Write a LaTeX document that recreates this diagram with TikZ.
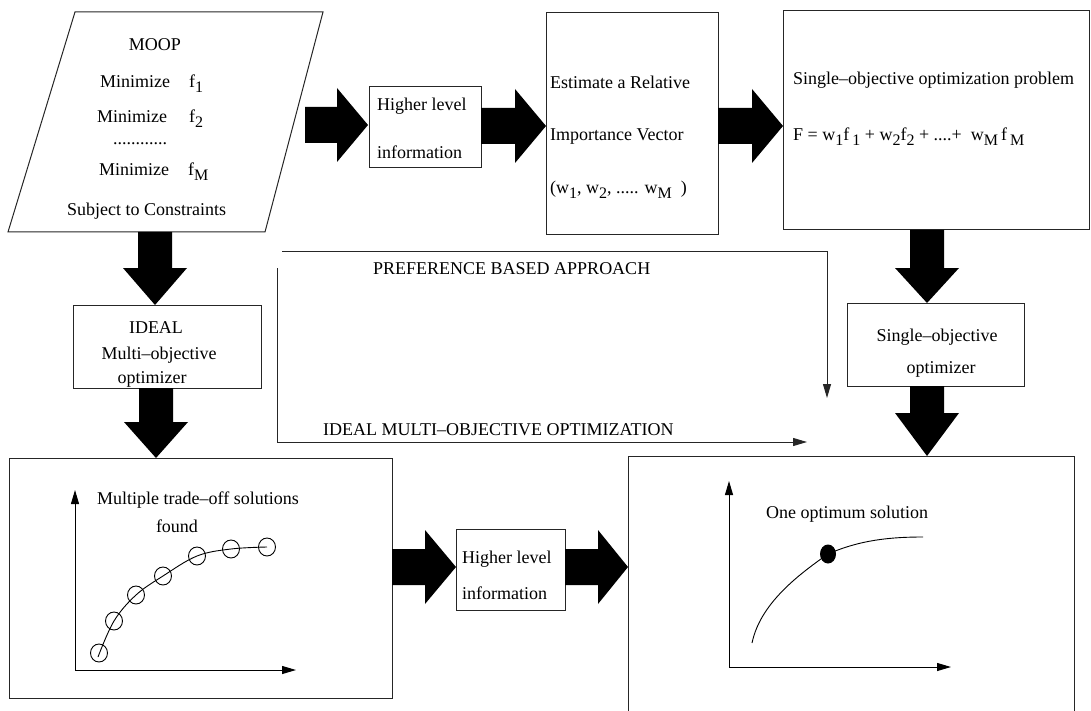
\documentclass[tikz,border=0pt]{standalone}
\usepackage{fontspec}
\setmainfont{Liberation Serif}
\usetikzlibrary{arrows.meta}
\newcommand\sbx[1]{\raisebox{-5pt}{\fontsize{16}{16}\selectfont #1}}
\newcommand\blockR[4]{\fill (#1,#4-18) -- (#2,#4-18) -- (#2,#4-37) -- (#3,#4) -- (#2,#4+37) -- (#2,#4+18) -- (#1,#4+18) -- cycle;}
\newcommand\blockD[4]{\fill (#4-17,#1) -- (#4-17,#2) -- (#4-32,#2) -- (#4,#3) -- (#4+32,#2) -- (#4+17,#2) -- (#4+17,#1) -- cycle;}
\begin{document}
\begin{tikzpicture}[x=1pt,y=-1pt,
  font=\fontsize{18}{22}\selectfont,
  box/.style={draw=black!85,line width=1pt,inner sep=0pt},
  txt/.style={anchor=base west,inner sep=0pt},
  ctxt/.style={anchor=base,inner sep=0pt},
  thin/.style={draw=black!85,line width=1pt},
  tip/.style={-{Triangle[length=14pt,width=8pt]}}]
\useasboundingbox (0,0) rectangle (1091,711);

% MOOP parallelogram
\draw[thin] (75,12) coordinate (p1) -- (323,12) coordinate (p2) -- (265,232) coordinate (p3) -- (8,232) coordinate (p4) -- cycle;
\node[ctxt] (moop) at (155,51) {MOOP};
\node[txt] (m1) at (100,88) {Minimize\hspace{19pt}f\sbx{1}};
\node[txt] (m2) at (97,123) {Minimize\hspace{22pt}f\sbx{2}};
\node[txt] (dots) at (113,145) {............};
\node[txt] (m3) at (99,176) {Minimize\hspace{19pt}f\sbx{M}};
\node[txt] (subj) at (67,216) {Subject to Constraints};

% top row boxes
\node[box,minimum width=112pt,minimum height=81pt] (hl1) at (425,127.5) {};
\node[txt] (hl1a) at (377,111) {Higher level};
\node[txt] (hl1b) at (377,159) {information};

\node[box,minimum width=172pt,minimum height=222pt] (est) at (632,124) {};
\node[txt] (esta) at (550,89) {Estimate a Relative};
\node[txt] (estb) at (550,141) {Importance Vector};
\node[txt] (estc) at (550,194) {(w\sbx{1}, w\sbx{2}, ..... w\sbx{M}\hspace{9pt})};

\node[box,minimum width=306pt,minimum height=219pt] (sop) at (936,120.5) {};
\node[txt] (sopa) at (793,85) {Single--objective optimization problem};
\node[txt] (sopb) at (793,141) {F = w\sbx{1}f\,\sbx{1} + w\sbx{2}f\sbx{2} + ....+ \ w\sbx{M}\,f\,\sbx{M}};

% middle boxes
\node[box,minimum width=188pt,minimum height=83pt] (ideal) at (167,346.5) {};
\node[ctxt] (ideala) at (156,333) {IDEAL};
\node[ctxt] (idealb) at (159,359) {Multi--objective};
\node[ctxt] (idealc) at (152,383) {optimizer};

\node[box,minimum width=177pt,minimum height=83pt] (soo) at (935.5,344.5) {};
\node[ctxt] (sooa) at (937,341) {Single--objective};
\node[ctxt] (soob) at (941,373) {optimizer};

% thin connectors
\coordinate (pa) at (282,251);
\coordinate (pb) at (827,251);
\coordinate (pc) at (827,398);
\draw[thin,tip] (pa) -- (pb) -- (pc);
\node[txt] (pref) at (373,274) {PREFERENCE BASED APPROACH};
\coordinate (ia) at (277,268);
\coordinate (ib) at (277,442);
\coordinate (ic) at (807,442);
\draw[thin,tip] (ia) -- (ib) -- (ic);
\node[txt] (imo) at (323,435) {IDEAL MULTI--OBJECTIVE OPTIMIZATION};

% bottom left box
\node[box,minimum width=383pt,minimum height=240pt] (mult) at (200.5,578) {};
\coordinate (lo) at (75,670);
\coordinate (ly) at (75,490);
\coordinate (lx) at (296,670);
\draw[line width=1pt,tip] (lo) -- (ly);
\draw[line width=1pt,tip] (lo) -- (lx);
\draw[line width=0.9pt] plot[smooth,tension=0.6] coordinates {(98,657) (114,621) (136,595) (163,576) (197,556) (231,549) (267,547)};
\foreach \p [count=\i] in {(99,653),(114,621),(136,595),(163,576),(197,556),(231,549),(267,547)}
  \draw[line width=0.9pt] \p ellipse[x radius=8.5,y radius=9];
\node[txt] (multa) at (97,504) {Multiple trade--off solutions};
\node[ctxt] (multb) at (177,532) {found};

% bottom middle box
\node[box,minimum width=109pt,minimum height=81pt] (hl2) at (510.5,569.5) {};
\node[txt] (hl2a) at (462,563) {Higher level};
\node[txt] (hl2b) at (462,599) {information};

% bottom right box (open at bottom)
\coordinate (o1) at (628,712);
\coordinate (o2) at (628,456);
\coordinate (o3) at (1074,456);
\coordinate (o4) at (1074,712);
\draw[thin] (o1) -- (o2) -- (o3) -- (o4);
\coordinate (ro) at (729,667);
\coordinate (ry) at (729,481);
\coordinate (rx) at (951,667);
\draw[line width=1pt,tip] (ro) -- (ry);
\draw[line width=1pt,tip] (ro) -- (rx);
\coordinate (c0) at (752,643);
\coordinate (c1) at (828,554);
\coordinate (c2) at (923,537);
\draw[line width=0.9pt] (c0) .. controls (760,605) and (795,577) .. (c1) .. controls (860,540) and (890,537) .. (c2);
\fill (c1) ellipse[x radius=8,y radius=9.5];
\node[txt] (onea) at (766,518) {One optimum solution};

% block arrows
\blockR{305}{337}{368}{125}
\blockR{481}{515}{546}{126}
\blockR{718}{752}{783}{126}
\blockR{392}{425}{456}{567}
\blockR{565}{598}{628}{567}
\blockD{232}{268}{305}{155}
\blockD{388}{422}{458}{156}
\blockD{230}{268}{303}{927}
\blockD{386}{413}{456}{927}
\end{tikzpicture}
\end{document}
